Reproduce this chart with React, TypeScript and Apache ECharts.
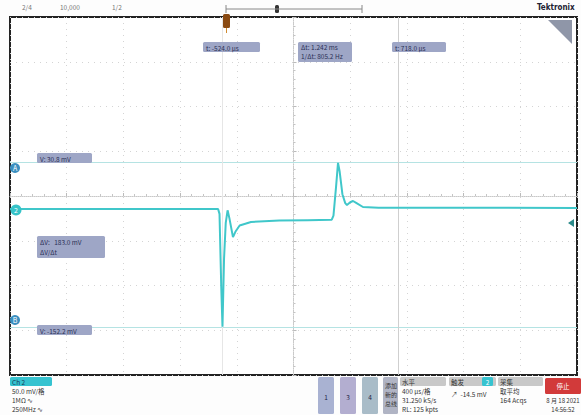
import React, { useEffect, useRef } from "react";
import * as echarts from "echarts";

// Waveform (time in µs relative to screen centre, voltage in mV)
const timesUs = [-2000, -532, -522, -510, -501, -490, -478, -465, -452, -427, -410, -380, -300, -100, 100, 270, 282, 300, 314, 325, 345, 365, 377, 400, 420, 445, 490, 600, 2000];
const voltsMv = [-14.5, -14.5, -20, -100, -146, -70, -30, -16, -25, -46, -40, -33, -29, -27.5, -27, -26.5, -22, 10, 37, 28, 2, -8, -10, -7, -5.6, -8, -12.3, -13, -13.4];

// Cursors
const hCursorsMv = [38, -146.4];
const vCursorsUs = [-504, 737];

// Axis settings
const xMin = -2000, xMax = 2000, xStep = 400;
const yMin = -200, yMax = 200, yStep = 50;

// Readout texts
const topTexts = ["2/4", "10,000", "1/2"];
const cursorTimeLabels = ["t: -524.0 µs", "Δt: 1.242 ms", "t: 718.0 µs"];
const cursorVoltLabels = ["V: 30.8 mV", "V: -152.2 mV"];
const deltaVLabel = ["ΔV:   183.0 mV", "ΔV/Δt"];
const chLines = ["50.0 mV/格", "1MΩ ∿", "250MHz ∿"];
const horizLines = ["400 µs/格", "31.250 kS/s", "RL: 125 kpts"];
const acqLines = ["取平均", "164 Acqs"];
const dateLines = ["8 月 18 2021", "14:56:52"];

export default function App() {
  const ref = useRef<HTMLDivElement>(null);
  useEffect(() => {
    if (!ref.current) return;
    const chart = echarts.init(ref.current, null, { renderer: "svg" });
    const data = timesUs.map((t, i) => [t, voltsMv[i]]);
    const font = "Noto Sans CJK SC";
    const small = (x: number, y: number, text: string, extra: any = {}) => ({
      type: "text", x, y, style: { text, fontSize: 6.5, lineHeight: 8, fill: "#333", fontFamily: font, ...extra }, z: 20,
    });
    const box = (x: number, y: number, w: number, h: number, fill: string, extra: any = {}) => ({
      type: "rect", shape: { x, y, width: w, height: h, r: 1.5 }, style: { fill, ...extra }, z: 15,
    });
    const graphic: any[] = [
      // top bar
      small(22, 3, topTexts[0], { fill: "#777" }),
      small(60, 3, topTexts[1], { fill: "#777" }),
      small(112, 3, topTexts[2], { fill: "#777" }),
      { type: "line", shape: { x1: 226, y1: 9, x2: 362, y2: 9 }, style: { stroke: "#888", lineWidth: 1 }, z: 20 },
      { type: "line", shape: { x1: 226, y1: 5, x2: 226, y2: 13 }, style: { stroke: "#888", lineWidth: 1 }, z: 20 },
      { type: "line", shape: { x1: 362, y1: 5, x2: 362, y2: 13 }, style: { stroke: "#888", lineWidth: 1 }, z: 20 },
      box(275, 5, 4, 8, "#333"),
      { type: "text", x: 537, y: 3, style: { text: "Tektronix", fontSize: 8, fontWeight: "bold", fill: "#223", fontFamily: "DejaVu Sans Condensed" }, z: 20 },
      // trigger position marker
      box(223, 14, 7, 14, "#8a4a12"),
      { type: "line", shape: { x1: 226.5, y1: 28, x2: 226.5, y2: 33 }, style: { stroke: "#d08a30", lineWidth: 1 }, z: 20 },
      // corner triangle
      { type: "polygon", shape: { points: [[548, 20], [572, 20], [572, 44]] }, style: { fill: "#8f96a8" }, z: 20 },
      // cursor time readouts
      box(203, 42, 57, 10, "#9ea6c6"),
      small(206, 44, cursorTimeLabels[0], { fill: "#2a2f55" }),
      box(298, 42, 54, 20, "#9ea6c6"),
      small(301, 43, cursorTimeLabels[1], { fill: "#2a2f55" }),
      small(301, 52, "1/Δt: 805.2 Hz", { fill: "#2a2f55" }),
      box(392, 42, 54, 10, "#9ea6c6"),
      small(395, 44, cursorTimeLabels[2], { fill: "#2a2f55" }),
      // voltage readouts
      box(37, 153, 55, 10, "#9ea6c6"),
      small(40, 155, cursorVoltLabels[0], { fill: "#2a2f55" }),
      box(37, 325, 55, 10, "#9ea6c6"),
      small(40, 327, cursorVoltLabels[1], { fill: "#2a2f55" }),
      box(37, 236, 68, 22, "#9ea6c6"),
      small(40, 238, deltaVLabel[0], { fill: "#2a2f55" }),
      small(40, 248, deltaVLabel[1], { fill: "#2a2f55" }),
      // A / B / 2 markers
      { type: "circle", shape: { cx: 15, cy: 168, r: 5 }, style: { fill: "#3a8fc0" }, z: 20 },
      { type: "text", x: 15, y: 168, style: { text: "A", fontSize: 7, fill: "#fff", align: "center", verticalAlign: "middle", fontFamily: font }, z: 21 },
      { type: "circle", shape: { cx: 15, cy: 320, r: 5 }, style: { fill: "#3a8fc0" }, z: 20 },
      { type: "text", x: 15, y: 320, style: { text: "B", fontSize: 7, fill: "#fff", align: "center", verticalAlign: "middle", fontFamily: font }, z: 21 },
      { type: "circle", shape: { cx: 16, cy: 210, r: 5.5 }, style: { fill: "#36c3c8" }, z: 20 },
      { type: "text", x: 16, y: 210, style: { text: "2", fontSize: 7, fill: "#fff", align: "center", verticalAlign: "middle", fontFamily: font }, z: 21 },
      // trigger level marker
      { type: "polygon", shape: { points: [[568, 223], [574, 219], [574, 227]] }, style: { fill: "#2a8a8a" }, z: 20 },
      // bottom: channel badge
      box(10, 377, 42, 9, "#36c3d0"),
      small(12, 378, "Ch 2", { fill: "#1a3a5a" }),
      small(12, 387, chLines[0]),
      small(12, 396, chLines[1]),
      small(12, 405, chLines[2]),
      // bottom buttons
      box(318, 377, 16, 37, "#a9b2d2"),
      small(326, 393, "1", { align: "center", fill: "#224" }),
      box(340, 377, 16, 37, "#b3aed0"),
      small(348, 393, "3", { align: "center", fill: "#224" }),
      box(362, 377, 16, 37, "#a9bcc8"),
      small(370, 393, "4", { align: "center", fill: "#224" }),
      box(383, 377, 15, 37, "#b0b4c4"),
      small(385, 381, "添加", { fontSize: 6 }),
      small(385, 390, "新的", { fontSize: 6 }),
      small(385, 399, "总线", { fontSize: 6 }),
      // horizontal panel
      box(400, 377, 46, 9, "#c8c8c8"),
      small(402, 378, "水平"),
      small(402, 387, horizLines[0]),
      small(402, 396, horizLines[1]),
      small(402, 405, horizLines[2]),
      // trigger panel
      box(449, 377, 47, 9, "#c8c8c8"),
      small(451, 378, "触发"),
      box(482, 377, 11, 9, "#36c3d0"),
      small(487.5, 378, "2", { align: "center", fill: "#fff" }),
      small(451, 390, "↗  -14.5 mV"),
      // acquisition panel
      box(498, 377, 45, 9, "#c8c8c8"),
      small(500, 378, "采集"),
      small(500, 387, acqLines[0]),
      small(500, 396, acqLines[1]),
      // stop
      box(545, 378, 36, 16, "#d23a3a"),
      small(563, 382, "停止", { align: "center", fill: "#fff" }),
      small(563, 396, dateLines[0], { align: "center", fontSize: 6 }),
      small(563, 405, dateLines[1], { align: "center", fontSize: 6 }),
    ];

    chart.setOption({
      animation: false,
      backgroundColor: "#fdfdfd",
      grid: { left: 10, top: 17, width: 567, height: 358, show: true, backgroundColor: "#ffffff", borderColor: "#222", borderWidth: 2 },
      xAxis: {
        type: "value", min: xMin, max: xMax, interval: xStep,
        axisLine: { show: true, onZero: true, lineStyle: { color: "#c8c8c8", type: "dotted", width: 1 } },
        axisTick: { show: true, inside: true, length: 3, lineStyle: { color: "#bbb" } },
        minorTick: { show: true, splitNumber: 5, length: 2, lineStyle: { color: "#c5c5c5" } },
        axisLabel: { show: false },
        splitLine: { show: true, lineStyle: { color: "#d4d4d4", type: [1, 5], width: 1 } },
      },
      yAxis: {
        type: "value", min: yMin, max: yMax, interval: yStep,
        axisLine: { show: true, onZero: true, lineStyle: { color: "#c8c8c8", type: "dotted", width: 1 } },
        axisTick: { show: true, inside: true, length: 3, lineStyle: { color: "#bbb" } },
        minorTick: { show: true, splitNumber: 5, length: 2, lineStyle: { color: "#c5c5c5" } },
        axisLabel: { show: false },
        splitLine: { show: true, lineStyle: { color: "#d4d4d4", type: [1, 5], width: 1 } },
      },
      series: [
        {
          type: "line",
          data,
          showSymbol: false,
          lineStyle: { color: "#40c7ca", width: 2 },
          z: 5,
          markLine: {
            silent: true,
            symbol: "none",
            label: { show: false },
            data: [
              ...hCursorsMv.map((v) => ({ yAxis: v, lineStyle: { color: "#b5e3e3", width: 1.2, type: "solid" } })),
              ...vCursorsUs.map((v, i) => ({ xAxis: v, lineStyle: { color: i === 0 ? "#e6e6e6" : "#cfcfcf", width: 1, type: "solid" } })),
            ],
          },
        },
      ],
      graphic,
    });
    return () => chart.dispose();
  }, []);
  return <div ref={ref} style={{ position: "fixed", left: 0, top: 0, width: 581, height: 415 }} />;
}
